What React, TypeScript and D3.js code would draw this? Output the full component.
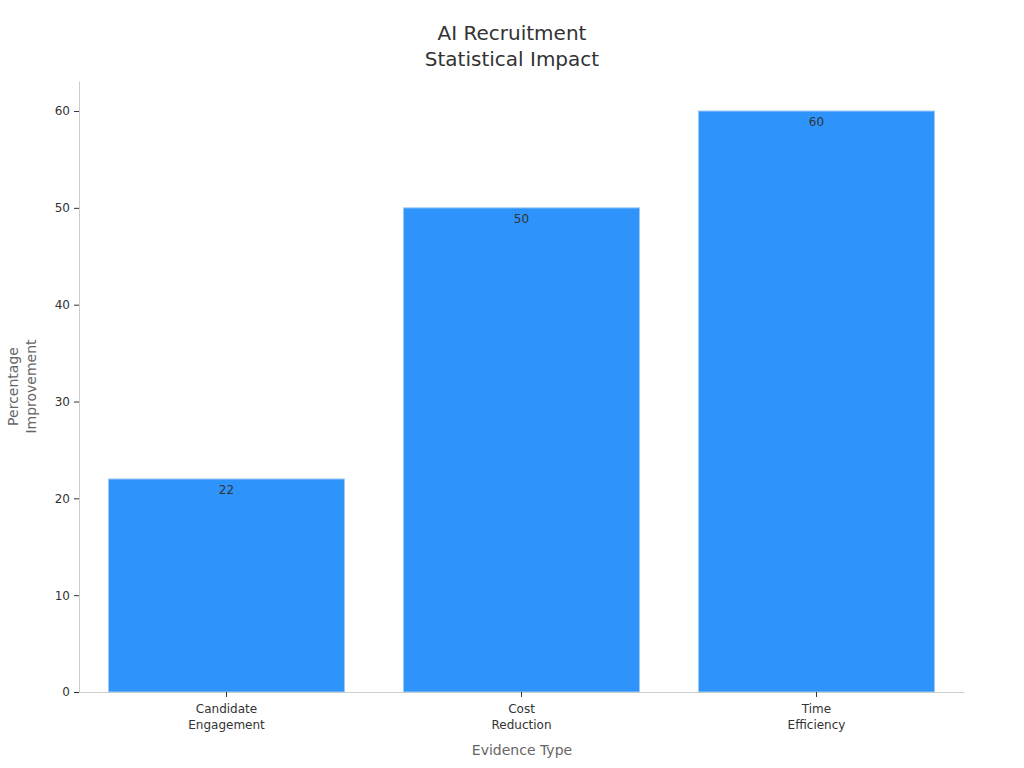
import React, { useEffect, useRef } from "react";
import * as d3 from "d3";

const categories = [["Candidate", "Engagement"], ["Cost", "Reduction"], ["Time", "Efficiency"]];
const values = [22, 50, 60];
const yTicks = [0, 10, 20, 30, 40, 50, 60];
const titleLines = ["AI Recruitment", "Statistical Impact"];
const yLabelLines = ["Percentage", "Improvement"];
const xLabel = "Evidence Type";

const W = 1024, H = 768;
const M = { left: 79, right: 964, top: 81, bottom: 692 };
const FONT = "DejaVu Sans, sans-serif";

export default function App() {
  const ref = useRef<SVGSVGElement | null>(null);
  useEffect(() => {
    const svg = d3.select(ref.current);
    svg.selectAll("*").remove();
    const keys = categories.map((c) => c.join(" "));
    const x = d3.scaleBand<string>().domain(keys).range([M.left, M.right]).paddingInner(0.2).paddingOuter(0.1);
    const y = d3.scaleLinear().domain([0, 63.1]).range([M.bottom, M.top]);

    svg.append("rect").attr("width", W).attr("height", H).attr("fill", "#fff");

    const t = svg.append("text").attr("text-anchor", "middle").attr("font-family", FONT).attr("font-size", 20).attr("fill", "#333");
    titleLines.forEach((l, i) => t.append("tspan").attr("x", 512).attr("y", 40 + i * 26).text(l));

    svg.selectAll("rect.bar").data(values).enter().append("rect")
      .attr("class", "bar")
      .attr("x", (_, i) => x(keys[i])!)
      .attr("width", x.bandwidth())
      .attr("y", (d) => y(d))
      .attr("height", (d) => y(0) - y(d))
      .attr("fill", "#2E93FA")
      .attr("stroke", "#9cc9f7")
      .attr("stroke-width", 1);

    svg.selectAll("text.val").data(values).enter().append("text")
      .attr("x", (_, i) => x(keys[i])! + x.bandwidth() / 2)
      .attr("y", (d) => y(d) + 15)
      .attr("text-anchor", "middle")
      .attr("font-family", FONT).attr("font-size", 12).attr("fill", "#333")
      .text((d) => d);

    const ya = svg.append("g").attr("transform", `translate(${M.left},0)`)
      .call(d3.axisLeft(y).tickValues(yTicks).tickSize(5).tickPadding(4).tickSizeOuter(0));
    ya.select(".domain").attr("stroke", "#ccc");
    ya.selectAll(".tick line").attr("stroke", "#333");
    ya.selectAll(".tick text").attr("font-family", FONT).attr("font-size", 12).attr("fill", "#333");

    const xa = svg.append("g").attr("transform", `translate(0,${M.bottom})`)
      .call(d3.axisBottom(x).tickSize(5).tickSizeOuter(0).tickFormat(() => ""));
    xa.select(".domain").attr("stroke", "#ccc");
    xa.selectAll(".tick line").attr("stroke", "#333");
    xa.selectAll(".tick").each(function (_, i) {
      const g = d3.select(this);
      const tx = g.append("text").attr("text-anchor", "middle").attr("font-family", FONT).attr("font-size", 12).attr("fill", "#333");
      categories[i].forEach((l, j) => tx.append("tspan").attr("x", 0).attr("y", 21 + j * 16).text(l));
    });

    svg.append("text").attr("x", 522).attr("y", 755).attr("text-anchor", "middle")
      .attr("font-family", FONT).attr("font-size", 14).attr("fill", "#666").text(xLabel);

    const yl = svg.append("text").attr("transform", `translate(18,${(M.top + M.bottom) / 2}) rotate(-90)`)
      .attr("text-anchor", "middle").attr("font-family", FONT).attr("font-size", 14).attr("fill", "#666");
    yLabelLines.forEach((l, i) => yl.append("tspan").attr("x", 0).attr("y", i * 18).text(l));
  }, []);
  return <svg ref={ref} width={W} height={H} style={{ position: "absolute", left: 0, top: 0, display: "block" }} />;
}
